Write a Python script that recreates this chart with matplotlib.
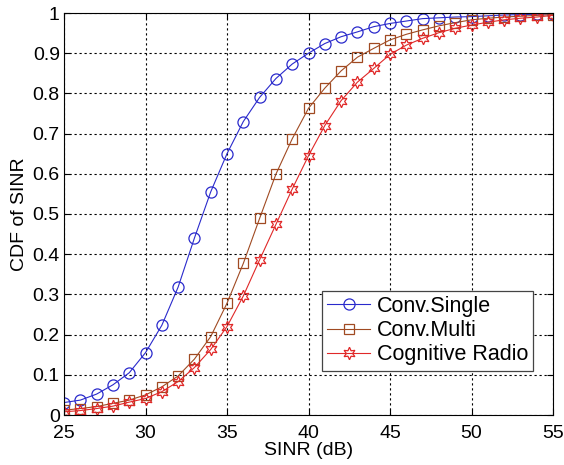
import matplotlib
matplotlib.use("Agg")
import matplotlib.pyplot as plt
import numpy as np

plt.rcParams['font.family'] = ['Liberation Sans', 'DejaVu Sans']

sinr = list(range(25, 56))
conv_single = [0.031, 0.037, 0.052, 0.075, 0.105, 0.155, 0.223, 0.318, 0.440, 0.555,
               0.650, 0.730, 0.790, 0.837, 0.873, 0.900, 0.924, 0.941, 0.953, 0.966,
               0.974, 0.980, 0.986, 0.988, 0.990, 0.991, 0.993, 0.995, 0.996, 0.997, 0.998]
conv_multi = [0.012, 0.016, 0.021, 0.029, 0.037, 0.050, 0.070, 0.097, 0.139, 0.195,
              0.278, 0.377, 0.489, 0.599, 0.687, 0.763, 0.813, 0.856, 0.890, 0.912,
              0.933, 0.947, 0.958, 0.968, 0.976, 0.983, 0.987, 0.990, 0.992, 0.994, 0.996]
cognitive = [0.008, 0.011, 0.016, 0.022, 0.032, 0.041, 0.058, 0.083, 0.118, 0.163,
             0.220, 0.296, 0.386, 0.474, 0.562, 0.645, 0.720, 0.782, 0.828, 0.862,
             0.897, 0.920, 0.937, 0.951, 0.962, 0.970, 0.977, 0.983, 0.987, 0.990, 0.994]
labels = ['Conv.Single', 'Conv.Multi', 'Cognitive Radio']
xticks = [25, 30, 35, 40, 45, 50, 55]
yticks = [0, 0.1, 0.2, 0.3, 0.4, 0.5, 0.6, 0.7, 0.8, 0.9, 1]
yticklabels = ['0', '0.1', '0.2', '0.3', '0.4', '0.5', '0.6', '0.7', '0.8', '0.9', '1']

fig = plt.figure(figsize=(5.64, 4.65), dpi=100)
ax = fig.add_axes([64/564, 1 - 415/465, (553-64)/564, (415-13)/465])

ax.plot(sinr, conv_single, color='#2a2acc', marker='o', markersize=8, mfc='none',
        lw=0.8, mew=0.9, label=labels[0])
ax.plot(sinr, conv_multi, color='#a04a22', marker='s', markersize=7, mfc='none',
        lw=0.8, mew=0.9, label=labels[1])
ax.plot(sinr, cognitive, color='#e02828', marker=(6, 1, 0), markersize=9, mfc='none',
        lw=0.8, mew=0.9, label=labels[2])

ax.set_xlim(25, 55)
ax.set_ylim(0, 1)
ax.set_xticks(xticks)
ax.set_yticks(yticks)
ax.set_yticklabels(yticklabels)
ax.tick_params(labelsize=14, direction='in', length=4, top=True, right=True)
ax.tick_params(axis='x', pad=7)
ax.tick_params(axis='y', pad=3)
ax.grid(True, color='black', linestyle=(0, (2, 2.5)), linewidth=0.8)
ax.set_xlabel('SINR (dB)', fontsize=14, labelpad=0)
ax.set_ylabel('CDF of SINR', fontsize=14, labelpad=3)
for s in ax.spines.values():
    s.set_linewidth(0.8)

leg = ax.legend(loc='lower right', bbox_to_anchor=(0.96, 0.11), fontsize=15.5,
                fancybox=False, edgecolor='#444444', framealpha=1,
                handlelength=2.0, handletextpad=0.3, borderpad=0.25, labelspacing=0.15,
                borderaxespad=0)
leg.get_frame().set_linewidth(0.9)

fig.savefig('out.png', dpi=100)
